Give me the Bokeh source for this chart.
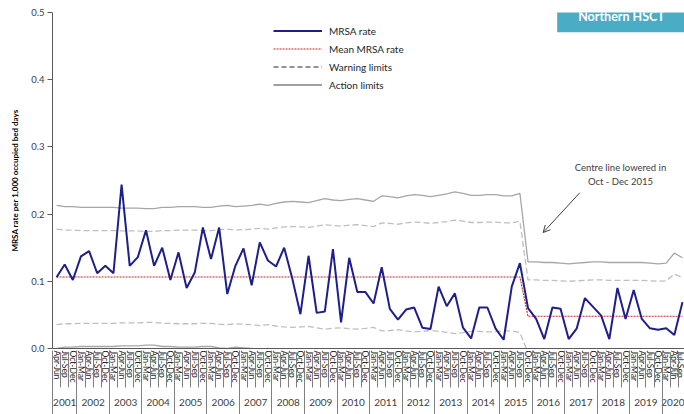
from bokeh.plotting import figure
from bokeh.models import (Range1d, LinearAxis, FixedTicker, Legend, LegendItem,
                          Label, Arrow, OpenHead, ColumnDataSource,
                          NumeralTickFormatter)
from bokeh.embed import file_html
from bokeh.resources import INLINE

FONT = "Lato"
NAN = float("nan")

QUARTER_NAMES = ["Jan-Mar", "Apr-Jun", "Jul-Sep", "Oct-Dec"]
YEARS = [2001, 2002, 2003, 2004, 2005, 2006, 2007, 2008, 2009, 2010,
         2011, 2012, 2013, 2014, 2015, 2016, 2017, 2018, 2019, 2020]
START_QUARTER = 1          # first period is Apr-Jun 2001
N_PERIODS = 78
Y_TICKS = [0.0, 0.1, 0.2, 0.3, 0.4, 0.5]

mrsa_rate = [0.106, 0.125, 0.102, 0.137, 0.145, 0.112, 0.123, 0.112, 0.244, 0.123,
             0.136, 0.176, 0.123, 0.150, 0.102, 0.143, 0.090, 0.113, 0.180, 0.133,
             0.180, 0.081, 0.123, 0.149, 0.094, 0.158, 0.131, 0.122, 0.150, 0.104,
             0.051, 0.138, 0.053, 0.055, 0.148, 0.039, 0.135, 0.084, 0.084, 0.067,
             0.121, 0.059, 0.043, 0.058, 0.061, 0.031, 0.029, 0.092, 0.063, 0.082,
             0.031, 0.015, 0.061, 0.061, 0.030, 0.013, 0.092, 0.127, 0.060, 0.044,
             0.014, 0.061, 0.059, 0.014, 0.030, 0.075, 0.062, 0.049, 0.014, 0.090,
             0.044, 0.087, 0.044, 0.030, 0.028, 0.030, 0.020, 0.069]

mean_rate = [0.1065, 0.1065, 0.1065, 0.1065, 0.1065, 0.1065, 0.1065, 0.1065, 0.1065, 0.1065,
             0.1065, 0.1065, 0.1065, 0.1065, 0.1065, 0.1065, 0.1065, 0.1065, 0.1065, 0.1065,
             0.1065, 0.1065, 0.1065, 0.1065, 0.1065, 0.1065, 0.1065, 0.1065, 0.1065, 0.1065,
             0.1065, 0.1065, 0.1065, 0.1065, 0.1065, 0.1065, 0.1065, 0.1065, 0.1065, 0.1065,
             0.1065, 0.1065, 0.1065, 0.1065, 0.1065, 0.1065, 0.1065, 0.1065, 0.1065, 0.1065,
             0.1065, 0.1065, 0.1065, 0.1065, 0.1065, 0.1065, 0.1065, 0.1065, 0.048, 0.048,
             0.048, 0.048, 0.048, 0.048, 0.048, 0.048, 0.048, 0.048, 0.048, 0.048,
             0.048, 0.048, 0.048, 0.048, 0.048, 0.048, 0.048, 0.048]

upper_action = [0.213, 0.211, 0.211, 0.210, 0.210, 0.210, 0.210, 0.210, 0.209, 0.209,
                0.209, 0.208, 0.208, 0.210, 0.210, 0.211, 0.211, 0.211, 0.210, 0.210,
                0.212, 0.213, 0.211, 0.212, 0.213, 0.215, 0.213, 0.216, 0.218, 0.219,
                0.218, 0.217, 0.220, 0.223, 0.221, 0.220, 0.222, 0.223, 0.221, 0.219,
                0.227, 0.226, 0.224, 0.227, 0.229, 0.228, 0.226, 0.228, 0.230, 0.233,
                0.231, 0.228, 0.228, 0.229, 0.229, 0.227, 0.227, 0.231, 0.129, 0.129,
                0.128, 0.128, 0.127, 0.126, 0.127, 0.128, 0.129, 0.129, 0.128, 0.128,
                0.128, 0.128, 0.128, 0.127, 0.126, 0.127, 0.142, 0.135]

upper_warning = [0.1775, 0.1762, 0.1762, 0.1755, 0.1755, 0.1755, 0.1755, 0.1755, 0.1749, 0.1749,
                 0.1749, 0.1742, 0.1742, 0.1755, 0.1755, 0.1762, 0.1762, 0.1762, 0.1755, 0.1755,
                 0.1769, 0.1775, 0.1762, 0.1769, 0.1775, 0.1789, 0.1775, 0.1795, 0.1809, 0.1815,
                 0.1809, 0.1802, 0.1822, 0.1842, 0.1829, 0.1822, 0.1835, 0.1842, 0.1829, 0.1815,
                 0.1869, 0.1862, 0.1849, 0.1869, 0.1882, 0.1875, 0.1862, 0.1875, 0.1889, 0.1909,
                 0.1895, 0.1875, 0.1875, 0.1882, 0.1882, 0.1869, 0.1869, 0.1895, 0.1020, 0.1020,
                 0.1014, 0.1014, 0.1007, 0.1000, 0.1007, 0.1014, 0.1020, 0.1020, 0.1014, 0.1014,
                 0.1014, 0.1014, 0.1014, 0.1007, 0.1000, 0.1007, 0.1107, 0.1060]

lower_warning = [0.0355, 0.0368, 0.0368, 0.0375, 0.0375, 0.0375, 0.0375, 0.0375, 0.0381, 0.0381,
                 0.0381, 0.0388, 0.0388, 0.0375, 0.0375, 0.0368, 0.0368, 0.0368, 0.0375, 0.0375,
                 0.0361, 0.0355, 0.0368, 0.0361, 0.0355, 0.0341, 0.0355, 0.0335, 0.0321, 0.0315,
                 0.0321, 0.0328, 0.0308, 0.0288, 0.0301, 0.0308, 0.0295, 0.0288, 0.0301, 0.0315,
                 0.0261, 0.0268, 0.0281, 0.0261, 0.0248, 0.0255, 0.0268, 0.0255, 0.0241, 0.0221,
                 0.0235, 0.0255, 0.0255, 0.0248, 0.0248, 0.0261, 0.0261, 0.0235, -0.0060, -0.0060,
                 -0.0054, -0.0054, -0.0047, -0.0040, -0.0047, -0.0054, -0.0060, -0.0060, -0.0054, -0.0054,
                 -0.0054, -0.0054, -0.0054, -0.0047, -0.0040, -0.0047, -0.0147, -0.0100]

lower_action = [0.000, 0.002, 0.002, 0.003, 0.003, 0.003, 0.003, 0.003, 0.004, 0.004,
                0.004, 0.005, 0.005, 0.003, 0.003, 0.002, 0.002, 0.002, 0.003, 0.003,
                0.001, 0.000, 0.002, 0.001, 0.000, -0.002, 0.000, -0.003, -0.005, -0.006,
                -0.005, -0.004, -0.007, -0.010, -0.008, -0.007, -0.009, -0.010, -0.008, -0.006,
                -0.014, -0.013, -0.011, -0.014, -0.016, -0.015, -0.013, -0.015, -0.017, -0.020,
                -0.018, -0.015, -0.015, -0.016, -0.016, -0.014, -0.014, -0.018, -0.033, -0.033,
                -0.032, -0.032, -0.031, -0.030, -0.031, -0.032, -0.033, -0.033, -0.032, -0.032,
                -0.032, -0.032, -0.032, -0.031, -0.030, -0.031, -0.046, -0.039]

# ---- category table (one slot per quarter) ----
period_index = list(range(N_PERIODS))
period_labels = [QUARTER_NAMES[(START_QUARTER + k) % 4] for k in period_index]
quarter_bounds = [k - 0.5 for k in range(N_PERIODS + 1)]
year_labels = {}
year_bounds = [-0.5]
for y in YEARS:
    jan = 4 * (y - YEARS[0]) - START_QUARTER
    first = max(jan, 0)
    last = jan + 3
    year_labels[(first + last) / 2] = str(y)
    if jan > 0:
        year_bounds.append(jan - 0.5)

src = ColumnDataSource(dict(x=period_index, rate=mrsa_rate, mean=mean_rate,
                            ua=upper_action, uw=upper_warning,
                            lw=lower_warning, la=lower_action))

p = figure(width=684, height=414, output_backend="svg", toolbar_location=None,
           x_range=Range1d(-0.5, 77.25), y_range=Range1d(0, 0.5),
           x_axis_type=None, min_border_left=52, min_border_right=0,
           min_border_top=12, min_border_bottom=64)
p.outline_line_color = None
p.grid.grid_line_color = None
p.background_fill_color = "white"
p.border_fill_color = "white"

AX = "#595959"
SEP = "#808080"
# y axis
yax = p.yaxis[0]
yax.ticker = FixedTicker(ticks=Y_TICKS)
yax.formatter = NumeralTickFormatter(format="0.0")
yax.axis_label = "MRSA rate per 1,000 occupied bed days"
yax.axis_label_text_font = FONT
yax.axis_label_text_font_style = "bold"
yax.axis_label_text_font_size = "8px"
yax.axis_label_text_color = "#000000"
yax.axis_label_standoff = 8
yax.major_label_text_font = FONT
yax.major_label_text_font_size = "9.5px"
yax.major_label_text_color = "#404040"
yax.major_label_standoff = 3
yax.major_tick_in = 0
yax.major_tick_out = 5
yax.minor_tick_line_color = None
yax.axis_line_color = AX
yax.major_tick_line_color = AX

Q_EXT = 33      # approx. height taken by the rotated quarter labels
Y_EXT = 25      # approx. height taken by the year row

# 1) x axis line + quarter labels
qax = LinearAxis(ticker=FixedTicker(ticks=period_index),
                 major_label_overrides={i: l for i, l in zip(period_index, period_labels)},
                 major_label_orientation="vertical",
                 major_tick_in=0, major_tick_out=0, major_tick_line_color=None,
                 minor_tick_line_color=None,
                 major_label_standoff=2,
                 major_label_text_font=FONT, major_label_text_font_size="8.5px",
                 major_label_text_color="#262626",
                 axis_line_color=AX)
p.add_layout(qax, "below")

# 2) year labels + quarter separators (ticks reaching back up to the x axis)
yrax = LinearAxis(ticker=FixedTicker(ticks=list(year_labels.keys()), minor_ticks=quarter_bounds),
                  major_label_overrides=year_labels,
                  major_tick_in=0, major_tick_out=0, major_tick_line_color=None,
                  minor_tick_in=Q_EXT, minor_tick_out=2, minor_tick_line_color=SEP,
                  major_label_standoff=11,
                  major_label_text_font=FONT, major_label_text_font_size="10px",
                  major_label_text_color="#404040",
                  axis_line_color=None)
p.add_layout(yrax, "below")

# 3) year separators
ysep = LinearAxis(ticker=FixedTicker(ticks=[], minor_ticks=year_bounds),
                  major_label_text_color=None, major_tick_line_color=None,
                  major_tick_in=0, major_tick_out=0,
                  minor_tick_in=Q_EXT + Y_EXT, minor_tick_out=6,
                  minor_tick_line_color=SEP, axis_line_color=None)
p.add_layout(ysep, "below")

# limits
p.line("x", "ua", source=src, line_color="#A6A6A6", line_width=1.3)
p.line("x", "la", source=src, line_color="#A6A6A6", line_width=1.3)
p.line("x", "uw", source=src, line_color="#BFBFBF", line_width=1.3, line_dash="6 3")
p.line("x", "lw", source=src, line_color="#BFBFBF", line_width=1.3, line_dash="6 3")
r_mean = p.line("x", "mean", source=src, line_color="#C62828", line_width=1.1, line_dash="2 1")
r_rate = p.line("x", "rate", source=src, line_color="#1E1E8C", line_width=2)

# legend-only samples (no visible data)
r_warn = p.line(x=[NAN, NAN], y=[NAN, NAN], line_color="#262626", line_width=1, line_dash="5 3")
r_act = p.line(x=[NAN, NAN], y=[NAN, NAN], line_color="#404040", line_width=1)

legend = Legend(items=[LegendItem(label="MRSA rate", renderers=[r_rate]),
                       LegendItem(label="Mean MRSA rate", renderers=[r_mean]),
                       LegendItem(label="Warning limits", renderers=[r_warn]),
                       LegendItem(label="Action limits", renderers=[r_act])],
                location=(221, 256), orientation="vertical",
                glyph_width=49, glyph_height=15, label_height=15, spacing=3,
                padding=0, margin=0, label_standoff=7,
                border_line_color=None, background_fill_alpha=0,
                label_text_font=FONT, label_text_font_size="10px",
                label_text_color="#262626")
p.add_layout(legend)

# title box
p.add_layout(Label(x=69.5, y=0.4937, text="Northern HSCT", text_align="center",
                   text_baseline="middle", text_color="white", text_font=FONT,
                   text_font_style="bold", text_font_size="12.5px",
                   background_fill_color="#4BACC6",
                   padding=dict(left=21, right=21, top=8, bottom=8)))

# annotation
p.add_layout(Label(x=69.37, y=0.2688, text="Centre line lowered in", text_align="center",
                   text_baseline="middle", text_color="#404040", text_font=FONT,
                   text_font_size="9.5px"))
p.add_layout(Label(x=69.37, y=0.2481, text="Oct - Dec 2015", text_align="center",
                   text_baseline="middle", text_color="#404040", text_font=FONT,
                   text_font_size="9.5px"))
p.add_layout(Arrow(end=OpenHead(size=7, line_color="#404040", line_width=1),
                   x_start=64.37, y_start=0.2318, x_end=59.86, y_end=0.1726,
                   line_color="#404040", line_width=1))

open("out.html", "w").write(file_html(p, INLINE))
